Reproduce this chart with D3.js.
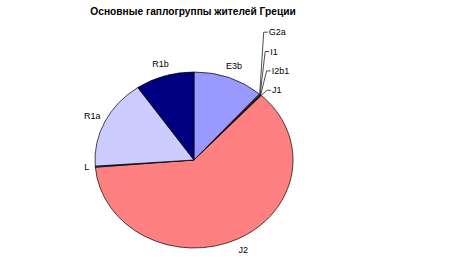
<!DOCTYPE html>
<html>
<head>
<meta charset="utf-8">
<script src="https://cdn.jsdelivr.net/npm/d3@7"></script>
<style>
  body { margin: 0; background: #fff; }
  text { font-family: "Liberation Sans", Arial, sans-serif; fill: #000; }
</style>
</head>
<body>
<svg id="chart" width="468" height="272"></svg>
<script>
// haplogroups, in Excel's clockwise order starting at 12 o'clock
var groups = ["E3b", "G2a", "I1", "I2b1", "J1", "J2", "L", "R1a", "R1b"];
var shares = [11.5, 0.1, 0.1, 0.1, 0.1, 61.8, 0.2, 16.5, 9.6];
var colors = ["#9999ff", "#993366", "#ffffcc", "#ccffff", "#660066", "#ff8080", "#0066cc", "#ccccff", "#000080"];
var smallGroups = ["G2a", "I1", "I2b1", "J1"];
var title = "Основные гаплогруппы жителей Греции";

var svg = d3.select("#chart");
var cx = 194, cy = 160, rx = 99, ry = 88;

svg.append("text")
  .attr("x", 193)
  .attr("y", 15)
  .attr("text-anchor", "middle")
  .style("font-size", "10.2px")
  .style("font-weight", "bold")
  .text(title);

var data = groups.map(function(g, i) { return {name: g, value: shares[i], color: colors[i]}; });

var pie = d3.pie().sort(null).value(function(d) { return d.value; });
var arcs = pie(data);
var arc = d3.arc().innerRadius(0).outerRadius(rx);

// pie is drawn as a circle then squashed into an ellipse
var plot = svg.append("g")
  .attr("transform", "translate(" + cx + "," + cy + ") scale(1," + (ry / rx) + ")");

plot.selectAll("path")
  .data(arcs)
  .enter()
  .append("path")
  .attr("d", arc)
  .attr("fill", function(d) { return d.data.color; })
  .attr("stroke", "#000")
  .attr("stroke-width", 0.7)
  .attr("vector-effect", "non-scaling-stroke");

var pointAt = function(angle, k) {
  return [cx + rx * k * Math.sin(angle), cy - ry * k * Math.cos(angle)];
};

var labels = svg.append("g");

arcs.forEach(function(d) {
  var mid = (d.startAngle + d.endAngle) / 2;
  var si = smallGroups.indexOf(d.data.name);
  if (si < 0) {
    var p = pointAt(mid, 1.14);
    var anchor = "middle";
    if (d.data.name == "L") { p = pointAt(mid, 1.06); anchor = "end"; }
    labels.append("text")
      .attr("x", p[0])
      .attr("y", p[1] + 3)
      .attr("text-anchor", anchor)
      .style("font-size", "9px")
      .text(d.data.name);
  } else {
    var e = pointAt(mid, 1.0);
    var n = smallGroups.length - 1 - si;
    var ly = e[1] - 5 - n * 19;
    var lx = e[0] + 5 + (n > 1 ? 0 : 1) - (n == 3 ? 1 : 0);
    labels.append("path")
      .attr("d", "M" + e[0] + "," + e[1] + "L" + lx + "," + ly + "L" + (lx + 4) + "," + ly)
      .attr("fill", "none")
      .attr("stroke", "#000")
      .attr("stroke-width", 0.7);
    labels.append("text")
      .attr("x", lx + 5)
      .attr("y", ly + 3)
      .style("font-size", "9px")
      .text(d.data.name);
  }
});
</script>
</body>
</html>
